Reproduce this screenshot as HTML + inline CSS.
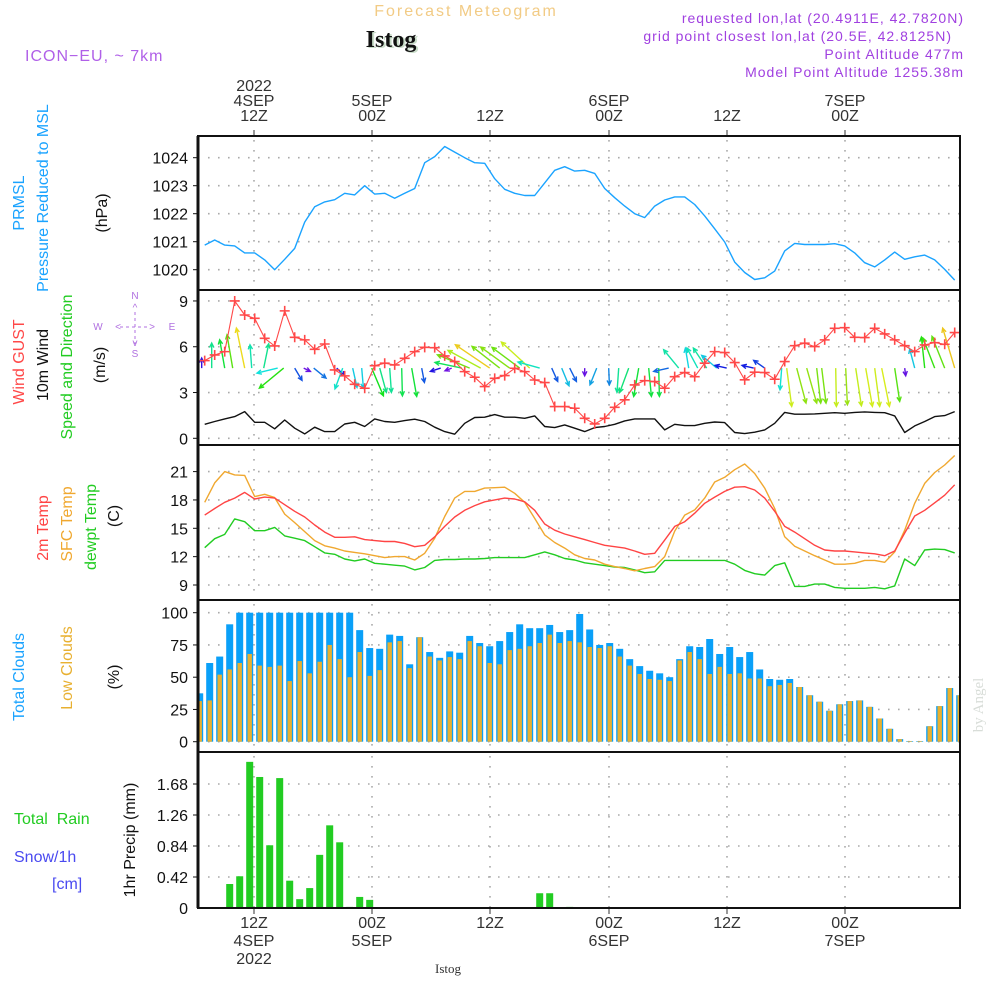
<!DOCTYPE html>
<html><head><meta charset="utf-8">
<style>
html,body{margin:0;padding:0;background:#fff;}
svg{display:block;font-family:"Liberation Sans",sans-serif;}
</style></head>
<body>
<svg id="chart" width="1000" height="1000" viewBox="0 0 1000 1000" xmlns="http://www.w3.org/2000/svg">
<rect x="0" y="0" width="1000" height="1000" fill="#fff"/>
<text x="466" y="16" text-anchor="middle" font-size="16" fill="#f2cb85" letter-spacing="2">Forecast Meteogram</text>
<text x="393" y="48" text-anchor="middle" font-size="24" font-weight="bold" font-family="Liberation Serif, serif" fill="#c8dcc8">Istog</text>
<text x="391" y="47" text-anchor="middle" font-size="24" font-weight="bold" font-family="Liberation Serif, serif" fill="#111">Istog</text>
<text x="25" y="61" font-size="16" fill="#b060e8" letter-spacing="1">ICON−EU, ~ 7km</text>
<g font-size="14" fill="#a040e0" text-anchor="end" letter-spacing="1">
<text x="964" y="23">requested lon,lat (20.4911E, 42.7820N)</text>
<text x="952" y="41">grid point closest lon,lat (20.5E, 42.8125N)</text>
<text x="964" y="59">Point Altitude 477m</text>
<text x="964" y="77">Model Point Altitude 1255.38m</text>
</g>
<g id="layer"></g>
<text x="448" y="973" text-anchor="middle" font-size="13" font-family="Liberation Serif, serif" fill="#333">Istog</text>
<text transform="translate(983,705) rotate(-90)" text-anchor="middle" font-size="15" font-family="Liberation Serif, serif" fill="#d8ddd8">by Angel</text>
</svg>
<script>
// ---------- DATA ----------
const pressure = [1020.88,1021.06,1020.88,1020.85,1020.6,1020.6,1020.35,1020,1020.37,1020.76,1021.7,1022.25,1022.42,1022.5,1022.73,1022.67,1023,1022.7,1022.73,1022.55,1022.73,1022.9,1023.82,1024.04,1024.4,1024.2,1024,1023.82,1023.8,1023.25,1022.87,1022.73,1022.65,1022.65,1023.1,1023.55,1023.68,1023.52,1023.55,1023.44,1022.9,1022.57,1022.27,1022,1021.86,1022.27,1022.49,1022.6,1022.6,1022.33,1021.92,1021.46,1020.99,1020.27,1019.9,1019.65,1019.71,1019.95,1020.67,1020.94,1020.9,1020.9,1020.9,1020.93,1020.85,1020.6,1020.25,1020.1,1020.35,1020.63,1020.37,1020.46,1020.52,1020.35,1020.01,1019.63];
const wind10 = [0.92,1.1,1.27,1.42,1.75,1.05,1.05,0.62,1.2,0.66,0.29,0.73,0.44,0.44,0.94,1.05,0.77,1.27,1.1,1.05,1.16,1.25,1.1,0.73,0.44,0.27,0.98,1.36,1.38,1.55,1.38,1.38,1.31,1.47,0.77,0.7,0.88,0.66,0.44,0.7,0.77,0.92,1.14,1.27,1.27,1.27,0.55,0.92,0.83,0.83,0.98,1.07,1.03,0.38,0.31,0.4,0.55,0.98,1.7,1.58,1.58,1.6,1.64,1.68,1.64,1.7,1.73,1.7,1.68,1.47,0.38,0.81,1.1,1.42,1.49,1.75];
const gust = [5.09,5.46,5.68,9.0,8.08,7.86,6.55,6.05,8.35,6.62,6.45,5.83,6.18,4.48,4.09,3.54,3.28,4.76,4.92,4.81,5.24,5.68,5.96,5.94,5.4,5.03,4.37,4.0,3.39,3.93,4.11,4.59,4.37,3.82,3.65,2.08,2.08,1.97,1.31,0.94,1.31,2.03,2.52,3.5,3.78,3.72,3.28,4.04,4.31,4.04,4.92,5.68,5.62,4.96,3.83,4.33,4.31,3.87,5.03,6.07,6.23,6.01,6.45,7.21,7.25,6.62,6.6,7.21,6.84,6.45,6.07,5.68,6.12,6.27,6.16,6.93];
const arrowHour = [-0.3,0.7,2.0,2.8,4.0,4.7,5.9,7.3,7.9,9.0,9.9,10.9,13.2,13.8,14.8,15.7,16.7,17.5,18.5,19.7,20.7,21.7,23.6,24.7,25.7,26.5,27.6,28.5,29.5,30.5,31.5,32.5,33.5,34.7,35.7,36.5,38.0,39.2,40.4,41.4,42.4,43.4,44.4,45.4,46.4,47.4,48.4,49.3,50.2,51.2,52.2,54.9,56.0,57.7,58.2,59.2,60.2,61.2,61.7,63.1,64.1,65.1,66.1,67.0,67.7,69.0,70.0,71.0,72.0,73.0,74.0,75.0];
const arrowU = [0,0,-1.25,-1.42,-2.08,-0.42,1.25,-5.17,-6.08,1.83,1.67,3.08,2.08,-1.92,1.08,0.42,2.92,1.67,0.42,0.17,1.25,0.67,-2.58,-1.67,-6.67,-8.08,-8.17,-8.58,-6.92,-7.25,-6.92,-7.08,-5.42,1.5,1.83,1.67,0,-1.67,0.17,-0.42,-2.25,-1.25,0.67,0.17,-3.75,-3.75,-0.83,-2.67,-3.33,-3.75,-2.92,-2.92,-2.75,-0.42,1.25,2.33,2.5,1,1.08,0.17,0.42,1.42,1.67,1.25,1.92,1.25,0.25,-1.25,-0.83,-2.92,-3.17,-3];
const arrowV = [2.5,6.25,7.08,8.33,10,5.83,6.08,-1.25,-5,-3.08,-0.83,-2.5,-1.92,-5.17,-4.83,-5,-6.92,-6.08,-6.08,-6.92,-7.08,-3.58,-0.83,-0.67,1.42,3.33,4.42,5.83,5.42,5.25,5.17,6.5,1.5,-3.33,-4.42,-3.33,-1.92,-4.17,-4.17,-6.08,-6.08,-7.08,-7.08,-7.08,-0.83,4.58,5,5,5,3.17,0.67,0.67,1.92,-5.42,-9.58,-8.75,-8.75,-8.75,-8.75,-9.58,-9.17,-9.42,-9.58,-9.58,-9.58,-8.33,-1.92,4.75,7.75,7.5,7.92,10];
const temp2m = [16.4,17.1,17.75,18.2,18.8,18.1,18.3,18.2,17.5,16.8,16.2,15.35,14.6,14.05,14.05,14.1,13.8,13.7,13.6,13.6,13.4,13.05,13.2,14.1,15.2,16.2,16.9,17.4,17.8,18,18.2,18.1,17.8,16.9,15.45,14.8,14.4,14.1,13.8,13.5,13.2,13.05,12.9,12.6,12.25,12.35,13.75,15.2,15.7,16.6,17.65,18.3,18.9,19.35,19.4,19.05,18.2,16.8,15.2,14.6,13.9,13.2,12.7,12.6,12.6,12.5,12.4,12.3,12.1,12.6,14.5,16.3,16.9,17.7,18.5,19.6];
const tempSfc = [17.75,19.8,21,20.65,20.6,18.35,18.6,18.25,16.5,15.6,14.65,13.7,13.15,12.9,12.6,12.45,12.3,12.1,11.9,12,12,11.65,12.35,13.95,16.25,18.2,18.9,18.9,19.25,19.3,19.35,18.7,17.75,16.05,14.3,13.5,12.9,12.2,11.8,11.65,11.2,10.95,10.75,10.5,10.75,10.95,12,14.7,16.4,16.95,18.2,19.9,20.4,21.2,21.8,20.8,19.25,17.1,14.1,13.1,12.6,12.1,11.65,11.2,11.2,11.3,11.6,11.6,11.4,12.5,14.8,17.65,19.75,20.9,21.7,22.7];
const dewpt = [12.95,13.9,14.35,16,15.7,14.75,14.75,15.1,14.2,13.95,13.7,13.05,12.4,12.25,11.75,11.55,11.75,11.3,11.2,11.1,11,10.6,10.85,11.6,11.7,11.7,11.75,11.75,11.8,11.9,11.9,11.9,11.9,12.2,12.5,12.2,11.8,11.65,11.35,11.2,11.05,10.9,10.85,10.6,10.3,10.4,11.6,11.6,11.6,11.6,11.6,11.6,11.6,11.2,10.55,10.2,10.05,11.05,11.35,8.85,8.85,9.1,9.1,8.75,8.65,8.65,8.65,8.75,8.6,8.9,11.75,11.05,12.7,12.8,12.75,12.4];
const totalClouds = [37.5,61,66,91,100,100,100,100,100,100,100,100,100,100,100,100,86.5,72.6,72,83,82,60,81,69.5,65,70,69,82,76.5,74,78,85,91,88,88,90.5,85,86.5,99,87,75,76.5,72,64,58.6,55,53,50,64,74,73.4,79.6,68,73.4,65.6,69.5,56,48.6,48,48.6,42.4,36,31,24,29,31.5,32,27,18,10,2,0.5,0.5,12,27.6,41.6,36];
const lowClouds = [31.5,32,52,56,61,68,59,58,59,47,62.5,53,62,75,64,50,69.5,51,55.5,77,78,57,81,66,63,65.6,64,78,74,61,60,71,72,74,76.5,83,76.5,78,77,73.4,72.6,74,66,59,52.5,48.6,48,47,63,69.5,64,52.5,58,52.5,53,49,49,43,44,45.5,42.4,36,31,24,29,31.5,32,27,18,10,2,0.5,0.5,12,27.6,41.6,36];
const precip = [0,0,0,0.325,0.43,1.98,1.775,0.85,1.76,0.37,0.12,0.27,0.72,1.12,0.89,0.015,0.15,0.11,0,0,0,0,0,0,0,0,0,0,0,0,0,0,0,0,0.2,0.2,0,0.015,0,0,0,0,0,0,0,0,0,0,0,0,0,0,0,0,0,0,0,0,0,0,0,0,0,0,0,0,0,0,0,0,0,0,0,0,0,0,0];
const pTicks = [1020,1021,1022,1023,1024];
const wTicks = [0,3,6,9];
const tTicks = [9,12,15,18,21];
const cTicks = [0,25,50,75,100];
const rTicks = [0,0.42,0.84,1.26,1.68];
const timeTickHours = [4.93,16.73,28.53,40.43,52.23,64.03];
const timeTopLabels = [["2022","4SEP","12Z"],["","5SEP","00Z"],["","","12Z"],["","6SEP","00Z"],["","","12Z"],["","7SEP","00Z"]];
const timeBotLabels = [["12Z","4SEP","2022"],["00Z","5SEP",""],["12Z","",""],["00Z","6SEP",""],["12Z","",""],["00Z","7SEP",""]];

// ---------- SCALES ----------
const L = 198, R = 960;
const xT = h => 204.7 + 10 * h;
const xB = k => xT(k - 0.5);
const yP = v => 157.7 + (1024 - v) * 28;
const yW = v => 438.3 - v * 15.26;
const yTm = v => 585 - (v - 9) * 9.45;
const yC = v => 741.7 - v * 1.29;
const yR = v => 908 - v * (31 / 0.42);
const panels = [[136,290],[290,445],[445,600],[600,752],[752,908]];

const NS = "http://www.w3.org/2000/svg";
const layer = document.getElementById('layer');
function mk(tag, attrs, parent) {
  const e = document.createElementNS(NS, tag);
  for (const k in attrs) e.setAttribute(k, attrs[k]);
  (parent || layer).appendChild(e);
  return e;
}
const clip = mk('clipPath', {id: 'plotclip'});
mk('rect', {x: L, y: 136, width: R - L, height: 772}, clip);

const grid = mk('g', {stroke: '#aaa', 'stroke-width': 1.6, 'stroke-dasharray': '1.6 8.4'});


function hgrid(ticks, f) {
  ticks.forEach(t => {
    const y = f(t);
    const ln = mk('line', {x1: L + 10, x2: R, y1: y, y2: y}, grid);
    
    
    const tk = mk('text', {x: 188, y: y + 6, 'text-anchor': 'end', 'font-size': 16, fill: '#111'});
    tk.textContent = String(t);
    
    
    mk('line', {x1: L - 5, x2: L, y1: y, y2: y, stroke: '#111', 'stroke-width': 1});
  });
}
hgrid(pTicks, yP); hgrid(wTicks, yW); hgrid(tTicks, yTm); hgrid(cTicks, yC); hgrid(rTicks.slice(1), yR);
{ const t0 = mk('text', {x: 188, y: 914, 'text-anchor': 'end', 'font-size': 16, fill: '#111'}); t0.textContent = '0';
    }
timeTickHours.forEach((h, i) => {
  const x = xT(h);
  panels.forEach(p => {
    const v = mk('line', {x1: x, x2: x, y1: p[0] + 4, y2: p[1]}, grid);
    
    
  });
  mk('line', {x1: x, x2: x, y1: 130, y2: 136, stroke: '#333'});
  mk('line', {x1: x, x2: x, y1: 908, y2: 914, stroke: '#333'});
  timeTopLabels[i].forEach((s, j) => {
    if (!s) return;
    const t = mk('text', {x: x, y: 91 + j * 15, 'text-anchor': 'middle', 'font-size': 16, fill: '#333'});
    t.textContent = s;
    
    
  });
  timeBotLabels[i].forEach((s, j) => {
    if (!s) return;
    const t = mk('text', {x: x, y: 928 + j * 18, 'text-anchor': 'middle', 'font-size': 16, fill: '#333'});
    t.textContent = s;
    
    
  });
});

const plot = mk('g', {'clip-path': 'url(#plotclip)'});



totalClouds.forEach((v, k) => {
  const x = xB(k);
  const b = mk('rect', {x: x - 3.5, y: yC(v), width: 7, height: yC(0) - yC(v), fill: '#0aa0f8'}, plot);
  
  
});
lowClouds.forEach((v, k) => {
  const x = xB(k);
  const b = mk('rect', {x: x - 2.2, y: yC(v), width: 4.4, height: yC(0) - yC(v), fill: '#e8b030'}, plot);
  
  
});
precip.forEach((v, k) => {
  if (v <= 0) return;
  const x = xB(k);
  const b = mk('rect', {x: x - 3.5, y: yR(v), width: 7, height: yR(0) - yR(v), fill: '#22cc22'}, plot);
  
  
});

function line(arr, fy, color, name, w) {
  const d = arr.map((v, k) => (k ? 'L' : 'M') + xT(k).toFixed(1) + ' ' + fy(v).toFixed(1)).join(' ');
  const p = mk('path', {d: d, fill: 'none', stroke: color, 'stroke-width': w || 1.4, 'stroke-linejoin': 'round'}, plot);
  
  
}
line(pressure, yP, '#1aa3ff', 'pressure-line');
line(wind10, yW, '#111', 'wind10m-line');

// wind arrows
const arrowBase = 4.6;
arrowHour.forEach((h, i) => {
  const u = arrowU[i], v = arrowV[i];
  const x0 = xT(h), y0 = yW(arrowBase);
  const x1 = x0 + u * 4, y1 = y0 - v * 4;
  const mag = 12 * Math.hypot(u, v);
  const hue = Math.max(30, Math.min(280, 270 - (mag - 20) * 2.1));
  const col = `hsl(${hue.toFixed(0)},85%,${hue < 80 ? 52 : 48}%)`;
  const ang = Math.atan2(y1 - y0, x1 - x0);
  const hl = 5, a = 0.45;
  const hx1 = x1 - hl * Math.cos(ang - a), hy1 = y1 - hl * Math.sin(ang - a);
  const hx2 = x1 - hl * Math.cos(ang + a), hy2 = y1 - hl * Math.sin(ang + a);
  const p = mk('path', {d: `M${x0.toFixed(1)} ${y0.toFixed(1)}L${x1.toFixed(1)} ${y1.toFixed(1)}M${hx1.toFixed(1)} ${hy1.toFixed(1)}L${x1.toFixed(1)} ${y1.toFixed(1)}L${hx2.toFixed(1)} ${hy2.toFixed(1)}`, stroke: col, 'stroke-width': 1.4, fill: 'none'}, plot);
  
  
});

line(gust, yW, '#ff4848', 'gust-line', 1.1);
gust.forEach((v, k) => {
  const x = xT(k), y = yW(v);
  const m = mk('path', {d: `M${x-5} ${y}H${x+5}M${x} ${y-5}V${y+5}`, stroke: '#ff4848', 'stroke-width': 1.6}, plot);
  
  
});
line(dewpt, yTm, '#22cc22', 'dewpoint-line');
line(tempSfc, yTm, '#f0a830', 'sfc-temp-line');
line(temp2m, yTm, '#ff4444', 'temp2m-line');

panels.forEach(p => {
  const r = mk('rect', {x: L, y: p[0], width: R - L, height: p[1] - p[0], fill: 'none', stroke: '#111', 'stroke-width': 2});
  
  
});
mk('line', {x1: L, x2: L, y1: 136, y2: 908, stroke: '#111', 'stroke-width': 3});

function vlabel(x, y, txt, color, size, name) {
  const t = mk('text', {transform: `translate(${x},${y}) rotate(-90)`, 'text-anchor': 'middle', 'font-size': size || 16, fill: color});
  t.textContent = txt;
  
  
  return t;
}
vlabel(24, 203, 'PRMSL', '#1aa3ff', 16, 'prmsl-label');
vlabel(48, 198, 'Pressure Reduced to MSL', '#1aa3ff', 16, 'pressure-label');
vlabel(107, 213, '(hPa)', '#111', 16, 'hpa-unit');
vlabel(24, 362, 'Wind GUST', '#ff4848', 16, 'gust-label');
vlabel(48, 365, '10m Wind', '#111', 16, 'wind10m-label');
vlabel(72, 367, 'Speed and Direction', '#22cc22', 16, 'speed-direction-label');
vlabel(105, 365, '(m/s)', '#111', 16, 'ms-unit');
vlabel(48, 528, '2m Temp', '#ff4444', 16, 'temp2m-label');
vlabel(72, 524, 'SFC Temp', '#f0a830', 16, 'sfc-temp-label');
vlabel(96, 527, 'dewpt Temp', '#22cc22', 16, 'dewpt-label');
vlabel(119, 516, '(C)', '#111', 16, 'c-unit');
vlabel(24, 677, 'Total Clouds', '#1aa3ff', 16, 'total-clouds-label');
vlabel(72, 668, 'Low Clouds', '#e8b030', 16, 'low-clouds-label');
vlabel(119, 677, '(%)', '#111', 16, 'pct-unit');
vlabel(135, 840, '1hr Precip (mm)', '#111', 16, 'precip-unit');
[['Total  Rain', 14, 824, '#22cc22', 'rain-label'], ['Snow/1h', 14, 862, '#4a4af0', 'snow-label'], ['[cm]', 52, 889, '#4a4af0', 'cm-label']].forEach(a => {
  const t = mk('text', {x: a[1], y: a[2], 'font-size': 16, fill: a[3]});
  t.textContent = a[0];
  t.style.whiteSpace = 'pre';
  
  
});
const comp = mk('g', {fill: '#b070e0', 'font-size': 10, 'text-anchor': 'middle'});


[['N', 135, 299], ['W', 98, 330], ['E', 172, 330], ['S', 135, 357], ['^', 135, 311], ['v', 135, 346], ['<', 118, 330], ['>', 152, 330]].forEach(c => {
  const t = mk('text', {x: c[1], y: c[2]}, comp); t.textContent = c[0];
});
mk('path', {d: 'M135 312V344M120 327H150', stroke: '#b070e0', 'stroke-width': 1, 'stroke-dasharray': '3 3'}, comp);
</script>
</body></html>
